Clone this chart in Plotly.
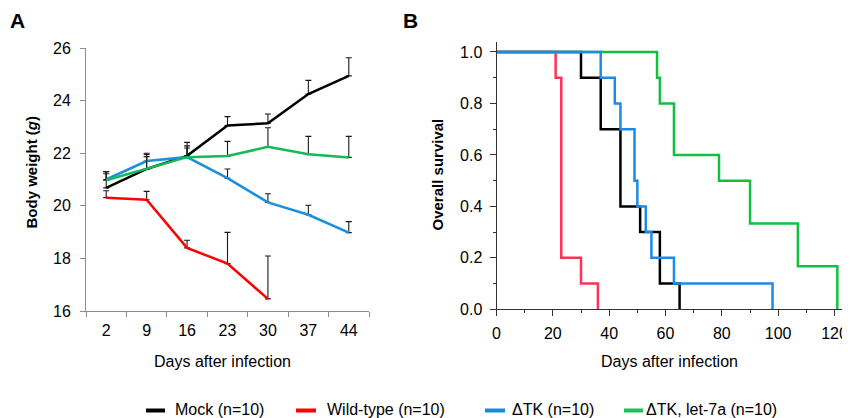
import plotly.graph_objects as go

# ---------------- data ----------------
days = [2, 9, 16, 23, 30, 37, 44]
series_names = ["Mock (n=10)", "Wild-type (n=10)", "ΔTK (n=10)", "ΔTK, let-7a (n=10)"]

# Panel A: body weight (g), mean and upper error
mock_w = [20.68, 21.40, 21.90, 23.05, 23.14, 24.25, 24.94]
mock_err = [0.62, 0.55, 0.51, 0.34, 0.35, 0.52, 0.69]
wt_w = [20.31, 20.23, 18.40, 17.80, 16.46]
wt_err = [0.26, 0.32, 0.29, 1.19, 1.63]
dtk_w = [21.00, 21.70, 21.85, 21.05, 20.13, 19.66, 18.98]
dtk_err = [0.30, 0.30, 0.43, 0.35, 0.33, 0.36, 0.42]
let7_w = [20.97, 21.40, 21.85, 21.89, 22.24, 21.96, 21.84]
let7_err = [0.25, 0.47, 0.35, 0.56, 0.73, 0.68, 0.80]

# Panel B: Kaplan-Meier survival (event times, survival after event)
mock_t = [0, 30, 37, 44, 51, 58, 65]
mock_s = [1.0, 0.9, 0.7, 0.4, 0.3, 0.1, 0.0]
wt_t = [0, 21, 23, 30, 36]
wt_s = [1.0, 0.9, 0.2, 0.1, 0.0]
dtk_t = [0, 37, 42, 44, 49, 50, 53, 55, 63, 98]
dtk_s = [1.0, 0.9, 0.8, 0.7, 0.5, 0.4, 0.3, 0.2, 0.1, 0.0]
let7_t = [0, 57, 58, 63, 79, 90, 107, 121]
let7_s = [1.0, 0.9, 0.8, 0.6, 0.5, 0.333, 0.167, 0.0]

colA = ["#000000", "#ff0000", "#1b8fdc", "#12bb55"]
colB = ["#000000", "#ff3355", "#1e8ae6", "#12c040"]
colL = ["#000000", "#ff0000", "#1a8ad4", "#1ec05a"]

# the page body has an 8px margin; the figure is sized to fill the rest of the window
OFF = 8
W, H = 850 - OFF, 418 - OFF
FONT = "Liberation Sans, Arial, sans-serif"


def px(x):
    return (x - OFF) / W


def py(y):
    return 1 - (y - OFF) / H


fig = go.Figure()

# ---- Panel A ----
A_order = [(1, wt_w, wt_err), (0, mock_w, mock_err), (2, dtk_w, dtk_err), (3, let7_w, let7_err)]
for i, yv, ev in A_order:
    fig.add_trace(go.Scatter(
        x=days[:len(yv)], y=yv, mode="lines", name=series_names[i],
        line=dict(color=colA[i], width=2.5), showlegend=False,
        error_y=dict(type="data", array=ev, arrayminus=[0] * len(ev), symmetric=False,
                     color="#1a1a1a", thickness=1.1, width=3),
        xaxis="x", yaxis="y"))

# ---- Panel B ----
B_order = [(0, mock_t, mock_s), (1, wt_t, wt_s), (3, let7_t, let7_s), (2, dtk_t, dtk_s)]
for i, tv, sv in B_order:
    fig.add_trace(go.Scatter(
        x=tv, y=sv, mode="lines", name=series_names[i], line_shape="hv",
        line=dict(color=colB[i], width=2.5), showlegend=False,
        xaxis="x2", yaxis="y2"))

axA_col = "#8c8c8c"
axB_col = "#333333"
tickfont = dict(family=FONT, size=16, color="#000")

fig.update_layout(
    template="none",
    width=W, height=H,
    margin=dict(l=0, r=0, t=0, b=0, pad=0),
    paper_bgcolor="white", plot_bgcolor="white",
    font=dict(family=FONT, color="#000"),
    xaxis=dict(domain=[px(86), px(369)], type="category",
               categoryorder="array", categoryarray=days,
               range=[-0.5, 6.5], tickson="boundaries", automargin=False,
               showline=True, linecolor=axA_col, linewidth=1,
               ticks="outside", ticklen=5, tickcolor=axA_col,
               showgrid=False, zeroline=False, tickfont=tickfont,
               ticklabelstandoff=5, anchor="y"),
    yaxis=dict(domain=[py(311), py(48)], range=[16, 26], dtick=2, automargin=False,
               showline=True, linecolor=axA_col, linewidth=1,
               ticks="outside", ticklen=5, tickcolor=axA_col,
               showgrid=False, zeroline=False, tickfont=tickfont,
               ticklabelstandoff=6, anchor="x"),
    xaxis2=dict(domain=[px(496.5), 1.0], range=[0, 125.5], dtick=20, automargin=False,
                showline=True, linecolor=axB_col, linewidth=1,
                ticks="outside", ticklen=6, tickcolor=axB_col,
                minor=dict(dtick=10, ticks="outside", ticklen=3, tickcolor=axB_col),
                showgrid=False, zeroline=False, tickfont=tickfont,
                ticklabeloverflow="allow",
                ticklabelstandoff=3, anchor="y2"),
    yaxis2=dict(domain=[py(309.3), py(41.7)], range=[0, 1.04], dtick=0.2, automargin=False,
                tickformat=".1f",
                showline=True, linecolor=axB_col, linewidth=1,
                ticks="outside", ticklen=6, tickcolor=axB_col,
                minor=dict(dtick=0.1, ticks="outside", ticklen=3, tickcolor=axB_col),
                showgrid=False, zeroline=False, tickfont=tickfont,
                ticklabelstandoff=4, anchor="x2"),
)

ann = []
# panel letters
ann.append(dict(text="<b>A</b>", x=px(17.5), y=py(20.5), xref="paper", yref="paper",
                showarrow=False, font=dict(size=21, family=FONT), xanchor="center", yanchor="middle"))
ann.append(dict(text="<b>B</b>", x=px(410.5), y=py(20.5), xref="paper", yref="paper",
                showarrow=False, font=dict(size=21, family=FONT), xanchor="center", yanchor="middle"))
# axis titles
ann.append(dict(text="<b>Body weight (<i>g</i>)</b>", x=px(30.5), y=py(172), xref="paper", yref="paper",
                showarrow=False, textangle=-90, font=dict(size=15, family=FONT),
                xanchor="center", yanchor="middle"))
ann.append(dict(text="<b>Overall survival</b>", x=px(437.5), y=py(175), xref="paper", yref="paper",
                showarrow=False, textangle=-90, font=dict(size=15, family=FONT),
                xanchor="center", yanchor="middle"))
ann.append(dict(text="Days after infection", x=px(222), y=py(361), xref="paper", yref="paper",
                showarrow=False, font=dict(size=16, family=FONT), xanchor="center", yanchor="middle"))
ann.append(dict(text="Days after infection", x=px(669.5), y=py(361), xref="paper", yref="paper",
                showarrow=False, font=dict(size=16, family=FONT), xanchor="center", yanchor="middle"))

# custom legend
sym_x = [(146, 165), (296, 316), (485, 505), (624, 643)]
txt_x = [174.5, 327, 512, 645.5]
shapes = []
for i in range(4):
    shapes.append(dict(type="line", xref="paper", yref="paper",
                       x0=px(sym_x[i][0]), x1=px(sym_x[i][1]), y0=py(410.5), y1=py(410.5),
                       line=dict(color=colL[i], width=4)))
    ann.append(dict(text=series_names[i], x=px(txt_x[i]), y=py(409.5), xref="paper", yref="paper",
                    showarrow=False, font=dict(size=16, family=FONT), xanchor="left", yanchor="middle",
                    xshift=-2))

fig.update_layout(annotations=ann, shapes=shapes)

fig.write_html("out.html")
